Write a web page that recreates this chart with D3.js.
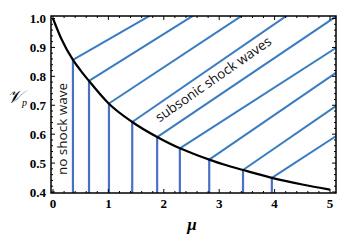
<!DOCTYPE html>
<html><head><meta charset="utf-8">
<script src="https://cdn.jsdelivr.net/npm/d3@7"></script>
<style>body{margin:0;background:#fff}</style>
</head><body>
<svg id="c" width="348" height="241"></svg>
<script>
// Black boundary curve (mu, nu_p)
const curveMu = [0, 0.15, 0.36, 0.5, 0.65, 1.0, 1.43, 1.88, 2.29, 2.5, 2.82, 3.1, 3.43, 3.95, 4.5, 5.0];
const curveNu = [1.0, 0.93, 0.857, 0.82, 0.784, 0.707, 0.642, 0.59, 0.551, 0.535, 0.512, 0.494, 0.476, 0.449, 0.426, 0.408];
// Blue lines: vertical foot position on the curve, and end point of the diagonal
const lineMu   = [0.36, 0.65, 1.01, 1.43, 1.88, 2.29, 2.82, 3.43, 3.95];
const lineNu   = [0.857, 0.784, 0.706, 0.642, 0.59, 0.551, 0.512, 0.476, 0.449];
const endMu    = [1.75, 2.53, 3.41, 4.22, 5.13, 5.13, 5.13, 5.13, 5.13];
const endNu    = [1.01, 1.01, 1.01, 1.01, 1.01, 0.901, 0.815, 0.70, 0.596];
const xTicks = [0, 1, 2, 3, 4, 5];
const yTicks = [0.4, 0.5, 0.6, 0.7, 0.8, 0.9, 1.0];

const svg = d3.select("#c");
const x = d3.scaleLinear().domain([0, 5]).range([53, 330]);
const y = d3.scaleLinear().domain([0.4, 1.0]).range([192, 18.5]);
const fx0 = 51, fx1 = 336, fy0 = 16, fy1 = 193;

svg.append("clipPath").attr("id", "clip").append("rect")
  .attr("x", fx0).attr("y", fy0).attr("width", fx1 - fx0).attr("height", fy1 - fy0);
const g = svg.append("g").attr("clip-path", "url(#clip)");

// diagonals
g.selectAll("line.d").data(lineMu).enter().append("line")
  .attr("x1", (d, i) => x(d)).attr("y1", (d, i) => y(lineNu[i]))
  .attr("x2", (d, i) => x(endMu[i])).attr("y2", (d, i) => y(endNu[i]))
  .attr("stroke", "#3a7cc2").attr("stroke-width", 2);
// verticals
g.selectAll("line.v").data(lineMu).enter().append("line")
  .attr("x1", d => x(d)).attr("x2", d => x(d))
  .attr("y1", fy1).attr("y2", (d, i) => y(lineNu[i]))
  .attr("stroke", "#4a70c6").attr("stroke-width", 2.2);
// curve
const pts = curveMu.map((m, i) => [m, curveNu[i]]);
g.append("path").datum(pts)
  .attr("d", d3.line().x(d => x(d[0])).y(d => y(d[1])).curve(d3.curveMonotoneX))
  .attr("fill", "none").attr("stroke", "#000").attr("stroke-width", 2.2);

// frame
svg.append("rect").attr("x", fx0).attr("y", fy0).attr("width", fx1 - fx0).attr("height", fy1 - fy0)
  .attr("fill", "none").attr("stroke", "#000").attr("stroke-width", 1.5);

// ticks (inward, all sides)
const tk = svg.append("g").attr("stroke", "#000").attr("stroke-width", 1);
const xMinor = d3.range(0, 5.01, 0.2);
xMinor.forEach(v => {
  const major = Math.abs(v - Math.round(v)) < 1e-6;
  const L = major ? 4 : 2;
  tk.append("line").attr("x1", x(v)).attr("x2", x(v)).attr("y1", fy1).attr("y2", fy1 - L);
  tk.append("line").attr("x1", x(v)).attr("x2", x(v)).attr("y1", fy0).attr("y2", fy0 + L);
});
const yMinor = d3.range(0.4, 1.001, 0.02);
yMinor.forEach(v => {
  const major = Math.abs(v * 10 - Math.round(v * 10)) < 1e-6;
  const L = major ? 4 : 2;
  tk.append("line").attr("y1", y(v)).attr("y2", y(v)).attr("x1", fx0).attr("x2", fx0 + L);
  tk.append("line").attr("y1", y(v)).attr("y2", y(v)).attr("x1", fx1).attr("x2", fx1 - L);
});

// tick labels
svg.selectAll("text.xt").data(xTicks).enter().append("text")
  .attr("x", d => x(d)).attr("y", 208).attr("text-anchor", "middle")
  .attr("font-family", "Liberation Serif").attr("font-weight", "bold").attr("font-size", 13)
  .text(d => d);
svg.selectAll("text.yt").data(yTicks).enter().append("text")
  .attr("x", 46).attr("y", d => y(d) + 4.5).attr("text-anchor", "end")
  .attr("font-family", "Liberation Serif").attr("font-weight", "bold").attr("font-size", 13)
  .text(d => d.toFixed(1));

// axis titles
svg.append("text").attr("x", 192).attr("y", 230).attr("text-anchor", "middle")
  .attr("font-family", "Liberation Serif").attr("font-weight", "bold").attr("font-style", "italic")
  .attr("font-size", 17).text("μ");
const yl = svg.append("text").attr("x", 7).attr("y", 103)
  .attr("font-family", "Liberation Serif").attr("font-style", "italic").attr("font-size", 18);
yl.append("tspan").text("𝒱");
yl.append("tspan").attr("font-size", 10).attr("dy", 3).text("p");

// annotations
svg.append("text").attr("transform", "translate(67,129) rotate(-90)").attr("text-anchor", "middle")
  .attr("font-family", "Open Sans").attr("font-size", 13.5).attr("fill", "#111").text("no shock wave");
svg.append("text").attr("transform", "translate(216,83) rotate(-35)").attr("text-anchor", "middle")
  .attr("font-family", "Open Sans").attr("font-size", 13.5).attr("fill", "#111").text("subsonic shock waves");
</script>
</body></html>
